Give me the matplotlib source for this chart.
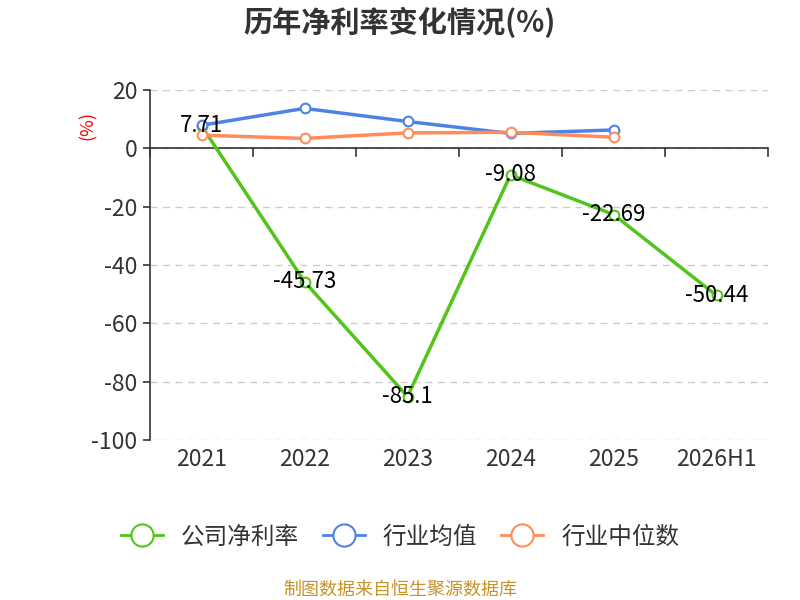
import matplotlib
matplotlib.use("Agg")
import matplotlib.pyplot as plt
from matplotlib.lines import Line2D
import numpy as np

plt.rcParams['font.family'] = ['Noto Sans CJK SC', 'DejaVu Sans']
plt.rcParams['axes.unicode_minus'] = False

# data
years = ["2021", "2022", "2023", "2024", "2025", "2026H1"]
company = [7.71, -45.73, -85.1, -9.08, -22.69, -50.44]
industry_mean = [7.9, 13.7, 9.2, 5.1, 6.3]
industry_median = [4.5, 3.4, 5.3, 5.5, 3.8]
company_labels = ["7.71", "-45.73", "-85.1", "-9.08", "-22.69", "-50.44"]

c_green = "#52c41a"
c_blue = "#4e83e4"
c_orange = "#ff8c5a"

fig = plt.figure(figsize=(8, 6), dpi=100)
ax = fig.add_axes([0.1875, 0.2667, 0.7725, 0.5833])

x = np.arange(len(years))
ax.plot(x[:len(industry_mean)], industry_mean, color=c_blue, lw=2.5, marker="o",
        ms=7, mfc="white", mec=c_blue, mew=1.5, zorder=3)
ax.plot(x[:len(industry_median)], industry_median, color=c_orange, lw=2.5, marker="o",
        ms=7, mfc="white", mec=c_orange, mew=1.5, zorder=3)
ax.plot(x, company, color=c_green, lw=2.5, marker="o",
        ms=7, mfc="white", mec=c_green, mew=1.5, zorder=2)

for xi, v, s in zip(x, company, company_labels):
    ax.text(xi, v, s, ha="center", va="center", fontsize=16, color="black", zorder=5)

ax.set_xlim(-0.5, len(years) - 0.5)
ax.set_ylim(-100, 20)
ax.set_yticks(range(-100, 21, 20))
ax.tick_params(axis="y", labelsize=16.5, colors="#333333", length=5, width=1.2, pad=4)
ax.yaxis.grid(True, linestyle=(0, (5, 4)), color="#cccccc", lw=1)
ax.set_axisbelow(True)

# x axis drawn at y=0, labels at bottom
ax.spines["top"].set_visible(False)
ax.spines["right"].set_visible(False)
ax.spines["bottom"].set_visible(False)
ax.spines["left"].set_color("#333333")
ax.spines["left"].set_linewidth(1.2)
ax.axhline(0, color="#333333", lw=1.2, zorder=1)
for b in np.arange(-0.5, len(years), 1.0):
    ax.plot([b, b], [0, -2.7], color="#333333", lw=1.2, clip_on=False, zorder=1)
ax.set_xticks(x)
ax.set_xticklabels(years, fontsize=16.5, color="#333333")
ax.tick_params(axis="x", length=0, pad=6)

fig.text(0.11, 0.79, "(%)", color="red", fontsize=13, rotation=90, ha="center", va="center")

fig.text(0.5, 0.963, "历年净利率变化情况(%)", ha="center", va="center",
         fontsize=21, fontweight="bold", color="#333333")

handles = [
    Line2D([], [], color=c_green, lw=2, marker="o", ms=16, mfc="white", mec=c_green, mew=1.5),
    Line2D([], [], color=c_blue, lw=2, marker="o", ms=16, mfc="white", mec=c_blue, mew=1.5),
    Line2D([], [], color=c_orange, lw=2, marker="o", ms=16, mfc="white", mec=c_orange, mew=1.5),
]
fig.legend(handles, ["公司净利率", "行业均值", "行业中位数"], loc="center",
           bbox_to_anchor=(0.5, 0.105), ncol=3, frameon=False, fontsize=17,
           handlelength=1.8, columnspacing=1.0, handletextpad=0.75, labelcolor="#333333")

fig.text(0.5, 0.018, "制图数据来自恒生聚源数据库", ha="center", va="center",
         fontsize=13, color="#c8922a")

fig.savefig("out.png", dpi=100)
